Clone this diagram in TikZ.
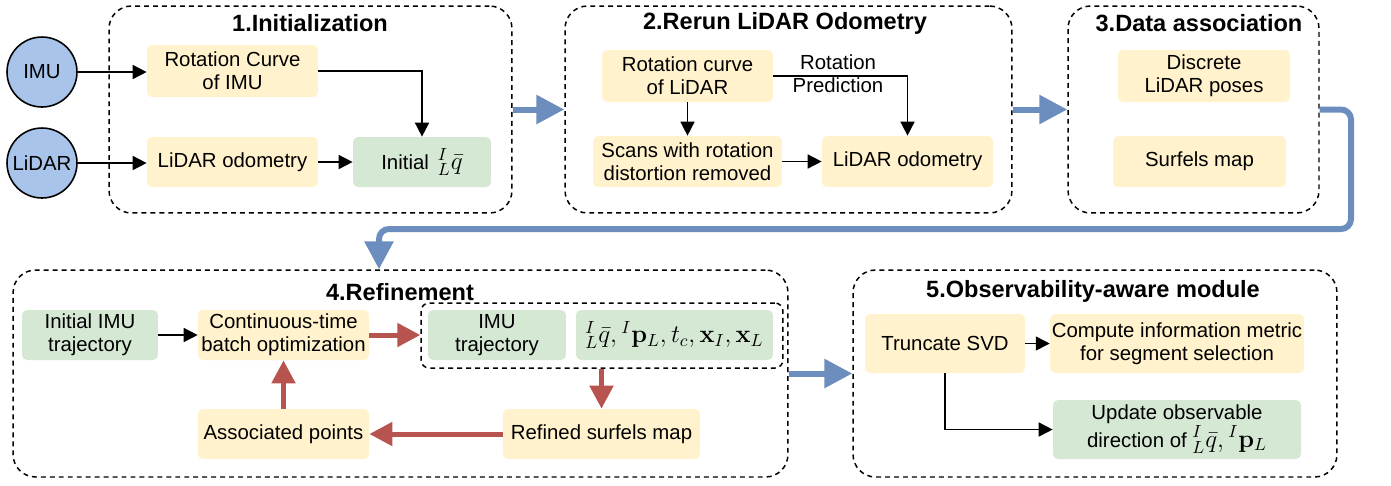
\documentclass[tikz,border=0pt]{standalone}
\usepackage[no-math]{fontspec}
\setmainfont{Liberation Sans}
\usepackage{amsmath}
\usepackage{amssymb}
\usepackage{xcolor}
\usetikzlibrary{arrows.meta, positioning, shapes.geometric}
\definecolor{Box_Yellow}{HTML}{FFF2CC}
\definecolor{Box_Green}{HTML}{D5E8D4}
\definecolor{Sensor_Blue}{HTML}{A9C4EB}
\definecolor{Flow_Blue}{HTML}{6C8EBF}
\definecolor{Flow_Red}{HTML}{B85450}
\newcommand{\bigmath}[1]{{\fontsize{14}{13.1}\selectfont$#1$}}

\begin{document}
\begin{tikzpicture}[x=0.02cm, y=-0.02cm,
    every node/.style={font=\fontsize{11.6}{13.1}\selectfont},
    ybox/.style={fill=Box_Yellow, rounded corners=0.1cm, align=center, inner sep=1pt},
    gbox/.style={fill=Box_Green, rounded corners=0.1cm, align=center, inner sep=1pt},
    sensor/.style={circle, draw, line width=0.9pt, fill=Sensor_Blue, minimum size=1.4cm, inner sep=1pt},
    stage/.style={draw, line width=0.85pt, dash pattern=on 2.8pt off 2.3pt, rounded corners=0.45cm, inner sep=0pt, minimum height=4.14cm},
    stagetitle/.style={font=\fontsize{13.4}{15}\selectfont\bfseries},
    arr/.style={line width=0.9pt, -{Triangle[length=0.28cm, width=0.28cm]}},
    redarr/.style={Flow_Red, line width=0.1cm, -{Triangle[length=0.46cm, width=0.46cm]}},
    bluearr/.style={Flow_Blue, line width=0.12cm, -{Triangle[length=0.56cm, width=0.56cm]}}]

    \useasboundingbox (0,0) rectangle (1391,485);

    % Stage frames
    \node[stage, minimum width=8.06cm] (s1) at (310.5,109.5) {};
    \node[stage, minimum width=8.94cm] (s2) at (788.5,109.5) {};
    \node[stage, minimum width=5.02cm] (s3) at (1193.5,109.5) {};
    \node[stage, minimum width=15.5cm] (s4) at (400.5,373.5) {};
    \node[stage, minimum width=9.68cm] (s5) at (1095,373.5) {};
    \node[stage, minimum width=7.24cm, minimum height=1.3cm, rounded corners=0.16cm] (est) at (602,335.5) {};

    % Stage titles
    \node[stagetitle] (t1) at (310,23) {1.Initialization};
    \node[stagetitle] (t2) at (785,23) {2.Rerun LiDAR Odometry};
    \node[stagetitle] (t3) at (1199,23) {3.Data association};
    \node[stagetitle] (t4) at (400,292) {4.Refinement};
    \node[stagetitle] (t5) at (1093,291) {5.Observability-aware module};

    % Sensors
    \node[sensor] (imu) at (42,72) {IMU};
    \node[sensor] (lidar) at (42,163) {LiDAR};

    % 1. Initialization
    \node[ybox, minimum width=3.42cm, minimum height=1.04cm] (rotimu) at (232.5,71) {Rotation Curve\\of IMU};
    \node[ybox, minimum width=3.42cm, minimum height=1cm] (lidodo) at (232.5,162) {LiDAR odometry};
    \node[gbox, minimum width=2.76cm, minimum height=1cm] (init) at (422,162) {Initial \,\bigmath{^{I}_{L}\bar{q}}};

    \draw[arr] (imu.east) -- (imu.east -| rotimu.west);
    \draw[arr] (lidar.east) -- (lidar.east -| lidodo.west);
    \draw[arr] (rotimu.east) -| (init.north);
    \draw[arr] (lidodo.east) -- (init.west);

    % 2. Rerun LiDAR odometry
    \node[ybox, minimum width=3.42cm, minimum height=1.04cm] (rotlid) at (687.5,76) {Rotation curve\\of LiDAR};
    \node[ybox, minimum width=3.78cm, minimum height=1.02cm] (scans) at (687.5,161.5) {Scans with rotation\\distortion removed};
    \node[ybox, minimum width=3.42cm, minimum height=1.02cm] (lidodo2) at (907.5,161.5) {LiDAR odometry};
    \node[align=center] (rotpred) at (838,74) {Rotation\\Prediction};

    \draw[arr] (rotlid.south) -- (scans.north);
    \draw[arr] (rotlid.east) -| (lidodo2.north);
    \draw[arr] (scans.east) -- (lidodo2.west);

    % 3. Data association
    \node[ybox, minimum width=3.44cm, minimum height=1.04cm] (poses) at (1204,76) {Discrete\\LiDAR poses};
    \node[ybox, minimum width=3.46cm, minimum height=1.02cm] (surfels) at (1199.5,161.5) {Surfels map};

    % 4. Refinement
    \node[gbox, minimum width=2.72cm, minimum height=1cm] (initimu) at (90,335) {Initial IMU\\trajectory};
    \node[ybox, minimum width=3.42cm, minimum height=1cm] (batch) at (283.5,335) {Continuous-time\\batch optimization};
    \node[ybox, minimum width=3.42cm, minimum height=1cm] (assoc) at (283.5,434) {Associated points};
    \node[gbox, minimum width=2.76cm, minimum height=1cm] (imutraj) at (497,335) {IMU\\trajectory};
    \node[gbox, minimum width=3.94cm, minimum height=1cm] (params) at (674.5,335) {\bigmath{^{I}_{L}\bar{q}, {}^{I}\mathbf{p}_{L}, t_{c}, \mathbf{x}_{I}, \mathbf{x}_{L}}};
    \node[ybox, minimum width=3.94cm, minimum height=1cm] (refined) at (601.5,434) {Refined surfels map};

    \draw[arr] (initimu.east) -- (batch.west);
    \draw[redarr] (batch.east) -- (batch.east -| est.west);
    \draw[redarr] (refined.north |- est.south) -- (refined.north);
    \draw[redarr] (refined.west) -- (assoc.east);
    \draw[redarr] (assoc.north) -- (batch.south);

    % 5. Observability-aware module
    \node[ybox, minimum width=3.2cm, minimum height=1.18cm] (svd) at (945,343.5) {Truncate SVD};
    \node[ybox, minimum width=4.96cm, minimum height=1.18cm] (metric) at (1177,343.5) {Compute information metric\\for segment selection};
    \node[gbox, minimum width=4.96cm, minimum height=1.18cm] (update) at (1177,429.5) {Update observable\\direction of \bigmath{^{I}_{L}\bar{q}, {}^{I}\mathbf{p}_{L}}};

    \draw[arr] (svd.east) -- (metric.west);
    \draw[arr] (svd.south) |- (update.west);

    % Flow between stages
    \coordinate (turn) at (1351,229);
    \coordinate (drop) at (379,229);
    \draw[bluearr] (s1.east) -- (s2.west);
    \draw[bluearr] (s2.east) -- (s3.west);
    \draw[bluearr, rounded corners=0.2cm] (s3.east) -| (turn) -- (drop) -- (s4.north -| drop);
    \draw[bluearr] (s4.east) -- (s5.west);
\end{tikzpicture}
\end{document}
